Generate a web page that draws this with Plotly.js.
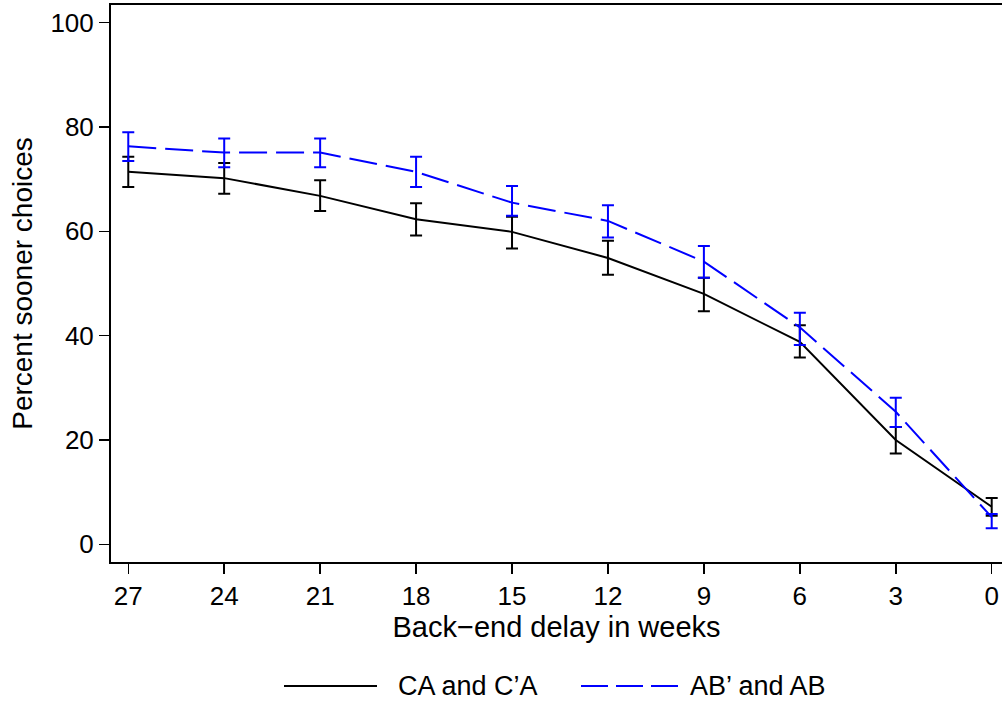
<!DOCTYPE html>
<html>
<head>
<meta charset="utf-8">
<script src="https://cdn.plot.ly/plotly-3.0.1.min.js"></script>
<style>html,body{margin:0;padding:0;background:#fff;}#chart{width:1002px;height:703px;}</style>
</head>
<body>
<div id="chart"></div>
<script>
// Back-end delay in weeks
const weeks = [27, 24, 21, 18, 15, 12, 9, 6, 3, 0];
const tickVals = [27, 24, 21, 18, 15, 12, 9, 6, 3, 0];
const yTicks = [0, 20, 40, 60, 80, 100];

// CA and C'A (black, solid)
const caName = "CA and C\u2019A";
const caValue = [71.4, 70.2, 66.8, 62.3, 59.9, 54.9, 48.0, 38.8, 20.0, 7.2];
const caUpper = [74.3, 73.1, 69.8, 65.4, 62.8, 58.2, 51.1, 42.0, 22.5, 8.9];
const caLower = [68.5, 67.2, 63.9, 59.2, 56.7, 51.7, 44.7, 35.8, 17.4, 5.5];

// AB' and AB (blue, dashed)
const abName = "AB\u2019 and AB";
const abValue = [76.3, 75.1, 75.1, 71.4, 65.5, 62.0, 54.2, 41.6, 25.4, 5.2];
const abUpper = [79.0, 77.8, 77.8, 74.3, 68.7, 65.0, 57.2, 44.4, 28.1, 5.8];
const abLower = [73.5, 72.3, 72.3, 68.5, 63.0, 58.8, 51.1, 38.2, 22.5, 3.1];

const FONT = "Liberation Sans, Arial, Helvetica, sans-serif";
const TICK_FS = 26;
const XTITLE_FS = 29;
const YTITLE_FS = 28;
const LEG_FS = 27;

function plus(v, u) { return v.map((x, i) => u[i] - x); }
function minus(v, l) { return v.map((x, i) => x - l[i]); }

const traces = [
  {
    x: weeks, y: caValue, name: caName, type: 'scatter', mode: 'lines',
    line: {color: '#000000', width: 2},
    error_y: {type: 'data', symmetric: false, array: plus(caValue, caUpper), arrayminus: minus(caValue, caLower),
      color: '#000000', thickness: 2, width: 6},
    showlegend: false
  },
  {
    x: weeks, y: abValue, name: abName, type: 'scatter', mode: 'lines',
    line: {color: '#0000ff', width: 2, dash: '28px,9px'},
    error_y: {type: 'data', symmetric: false, array: plus(abValue, abUpper), arrayminus: minus(abValue, abLower),
      color: '#0000ff', thickness: 2, width: 6},
    showlegend: false
  }
];

const L = 111, B = 141, T = 5, W = 1002, H = 703;
const pw = W - L, ph = H - T - B;
function px2x(p) { return (p - L) / pw; }
function py2y(p) { return (H - B - p) / ph; }

const legY = py2y(686);

const layout = {
  width: W, height: H,
  margin: {l: L, r: 0, t: T, b: B, pad: 0},
  paper_bgcolor: '#ffffff', plot_bgcolor: '#ffffff',
  font: {family: FONT, size: TICK_FS, color: '#000000'},
  showlegend: false,
  xaxis: {
    range: [27.54, -0.322], tickmode: 'array', tickvals: tickVals, ticktext: tickVals.map(String),
    ticks: 'outside', ticklen: 10, tickwidth: 1.5, tickcolor: '#000',
    showline: true, linecolor: '#000', linewidth: 2, mirror: true,
    showgrid: false, zeroline: false,
    tickfont: {family: FONT, size: TICK_FS, color: '#000'},
    title: {text: 'Back\u2212end delay in weeks', font: {family: FONT, size: XTITLE_FS, color: '#000'}, standoff: 5},
    automargin: false
  },
  yaxis: {
    range: [-3.39, 103.39], tickmode: 'array', tickvals: yTicks, ticktext: yTicks.map(String),
    ticks: 'outside', ticklen: 10, tickwidth: 1.5, tickcolor: '#000',
    showline: true, linecolor: '#000', linewidth: 2, mirror: false,
    showgrid: false, zeroline: false,
    tickfont: {family: FONT, size: TICK_FS, color: '#000'},
    title: {text: 'Percent sooner choices', font: {family: FONT, size: YTITLE_FS, color: '#000'}, standoff: 10},
    automargin: false
  },
  shapes: [
    {type: 'line', xref: 'paper', yref: 'paper', x0: px2x(284), x1: px2x(377), y0: legY, y1: legY,
      line: {color: '#000000', width: 2}},
    {type: 'line', xref: 'paper', yref: 'paper', x0: px2x(581), x1: px2x(680), y0: legY, y1: legY,
      line: {color: '#0000ff', width: 2, dash: '27px,8px'}}
  ],
  annotations: [
    {xref: 'paper', yref: 'paper', x: px2x(396), y: legY, xanchor: 'left', yanchor: 'middle',
      text: caName, showarrow: false, font: {family: FONT, size: LEG_FS, color: '#000'}},
    {xref: 'paper', yref: 'paper', x: px2x(688), y: legY, xanchor: 'left', yanchor: 'middle',
      text: abName, showarrow: false, font: {family: FONT, size: LEG_FS, color: '#000'}}
  ]
};

Plotly.newPlot('chart', traces, layout, {displayModeBar: false, staticPlot: true});
</script>
</body>
</html>
